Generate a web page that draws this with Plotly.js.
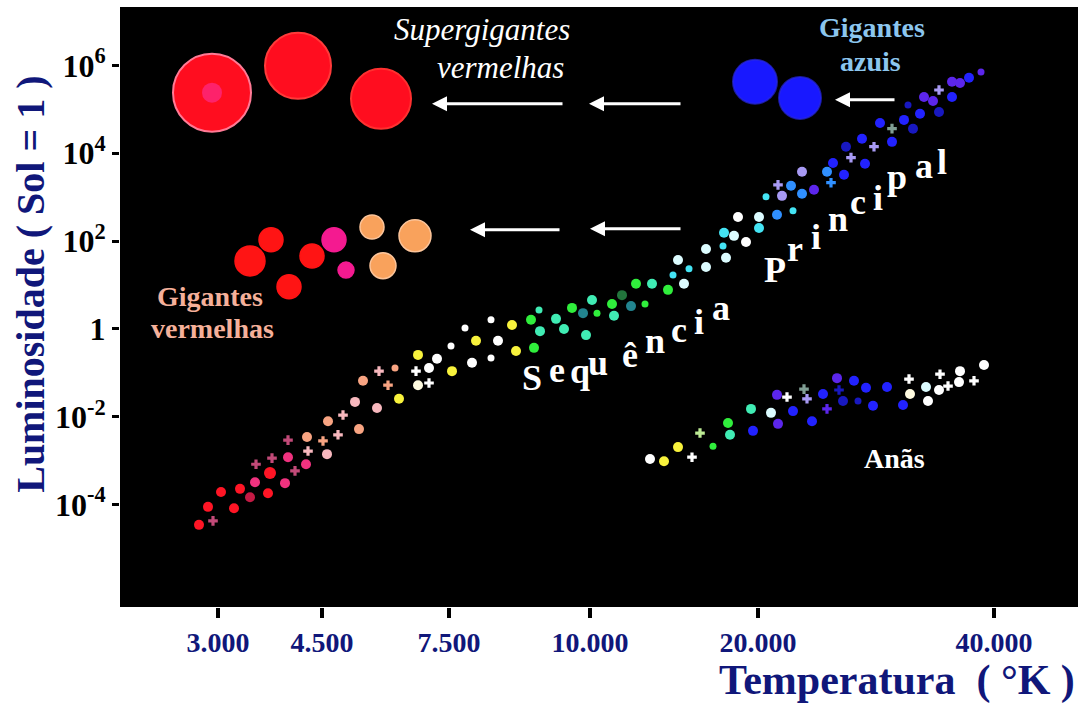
<!DOCTYPE html>
<html><head><meta charset="utf-8">
<script src="https://cdn.plot.ly/plotly-3.0.1.min.js"></script>
<style>html,body{margin:0;padding:0;background:#fff;} #chart{width:1082px;height:704px;}</style>
</head><body><div id="chart"></div>
<script>
// ---- Axis scales ----
// x: position on the (non-uniform) temperature scale of the diagram
const tempTickPos  = [218, 322, 449, 590, 758, 994];
const tempTickText = ['3.000', '4.500', '7.500', '10.000', '20.000', '40.000'];
// y: log10 of luminosity (Sol = 1)
const lumTickVals = [6, 4, 2, 0, -2, -4];
const lumTickText = ['10<sup>6</sup>', '10<sup>4</sup>', '10<sup>2</sup>', '1', '10<sup>-2</sup>', '10<sup>-4</sup>'];

// ---- Main sequence ----
const msX = [199,213,208,221,234,240,250,255,256,270,
             268,272,285,288,295,288,306,307,308,323,
             327,328,338,343,355,359,363,377,379,388,
             395,399,418,416,418,429,429,437,452,451,
             465,476,472,491,491,498,512,516,531,534,
             539,540,556,564,572,583,586,592,597,612,
             614,622,631,636,645,652,668,673,678,684,
             689,706,706,723,724,726,734,738,746,759,
             759,766,777,778,782,791,793,802,802,814,
             827,831,833,844,846,851,862,865,874,880,
             892,892,904,908,913,920,924,933,939,939,
             952,952,960,969,981];
const msLogL = [-4.46,-4.37,-4.05,-3.71,-4.08,-3.64,-3.83,-3.49,-3.08,-3.28,
                -3.74,-2.94,-3.51,-2.92,-3.23,-2.53,-3.08,-2.46,-2.78,-2.55,
                -2.85,-2.10,-2.41,-1.96,-1.66,-2.28,-1.18,-1.80,-0.96,-1.28,
                -0.89,-1.59,-0.59,-0.96,-1.28,-0.89,-1.23,-0.68,-0.96,-0.39,
                0.02,-0.27,-0.77,0.21,-0.66,-0.27,0.09,-0.50,0.21,-0.43,
                0.43,-0.05,0.23,0.00,0.48,0.36,-0.14,0.66,0.36,0.57,
                0.30,0.77,0.52,1.03,0.57,1.03,0.89,1.23,1.57,1.03,
                1.37,1.82,1.41,1.89,2.19,1.62,2.12,2.55,1.98,2.55,
                2.30,3.01,2.60,3.28,3.03,3.26,2.69,3.58,3.08,3.17,
                3.58,3.33,3.78,3.51,4.15,3.90,4.33,3.76,4.15,4.69,
                4.56,4.26,4.76,5.10,4.56,4.90,5.28,5.19,5.44,4.94,
                5.63,5.28,5.60,5.72,5.85];
const msColorClass = ['R','DP','R','R','R','R','DR','PK','DP','R',
                      'R','DP','PK','PK','DP','DP','PK','SA','LP','SA',
                      'LP','SA','LP','LP','LP','SA','SA','LP','LP','SA',
                      'SA','YE','YE','WH','CR','WH','WH','WH','YE','WH',
                      'WH','YE','WH','WH','WH','WH','YE','YE','GR','GR',
                      'CG','CG','CG','CG','GR','TE','CG','CG','GR','GR',
                      'CG','DG','TE','GR','GR','CG','GR','CY','WC','WC',
                      'CY','WC','WC','CY','CY','WC','WC','WH','WH','WC',
                      'CY','CY','AZ','LV','LV','AZ','CY','LV','AZ','PB',
                      'AZ','AZ','BL','BL','DB','LV','BL','BL','LV','BL',
                      'GG','BL','BL','DB','DB','BL','PB','PB','LV','DB',
                      'PB','BL','PB','BL','PB'];
const msKind = ['d','p','d','d','d','d','d','d','p','D',
                'd','p','d','d','p','p','d','d','p','p',
                'd','d','p','p','d','d','d','d','p','p',
                's','d','d','p','d','d','p','d','d','s',
                's','d','d','s','s','d','d','d','d','d',
                's','d','d','d','d','d','d','d','s','d',
                'd','d','d','d','s','d','d','s','d','d',
                's','d','d','s','d','d','d','d','d','d',
                'd','s','d','p','d','d','s','d','d','d',
                'd','p','d','d','d','p','d','d','p','d',
                'p','d','d','s','d','d','d','d','p','d',
                'd','d','d','d','s'];

// ---- Dwarfs (Anãs) ----
const dwX = [650,664,678,692,700,713,728,730,751,753,
             771,777,778,787,793,804,807,812,823,827,
             837,839,843,854,858,866,873,887,903,910,
             909,926,928,939,948,940,960,959,974,984];
const dwLogL = [-2.96,-3.01,-2.69,-2.92,-2.37,-2.67,-2.14,-2.41,-1.82,-2.32,
                -1.91,-1.50,-2.16,-1.55,-1.87,-1.37,-1.59,-2.10,-1.48,-1.82,
                -1.12,-1.39,-1.64,-1.18,-1.64,-1.34,-1.75,-1.32,-1.73,-1.48,
                -1.14,-1.32,-1.64,-1.39,-1.30,-1.03,-0.96,-1.21,-1.18,-0.82];
const dwColorClass = ['WH','YE','YE','WH','LG','GR','GR','CG','CG','BL',
                      'WC','PB','PB','WH','BL','GG','LV','BL','BL','PB',
                      'PB','DB','DB','BL','DB','BL','BL','BL','BL','CR',
                      'WH','WC','WH','WH','WH','WH','WH','WH','WH','WH'];
const dwKind = ['d','d','d','p','p','s','d','d','d','d',
                'd','d','d','p','d','p','p','d','d','p',
                'd','p','d','d','s','d','d','d','d','d',
                'p','d','d','d','p','p','d','d','p','d'];

// ---- Red giants ----
const rgX = [250,271,289,312,334,346,372,415,383];
const rgLogL = [1.55,2.03,0.96,1.66,2.03,1.34,2.32,2.12,1.44];
const rgRadius = [15,12,12,12,12,8,12,16,13];
const rgColorClass = ['RG','RG','RG','RG','MG','MG','OR','OR','OR'];

// ---- Red supergiants ----
const sgX = [212,298,381];
const sgLogL = [5.38,5.99,5.24];
const sgRadius = [39,33,30];

// ---- Blue giants ----
const bgX = [755,800];
const bgLogL = [5.63,5.26];
const bgRadius = [22,21];

// ---- Styles ----
const palette = {
  R:'#ff1525', DR:'#c41a44', PK:'#f0327f', DP:'#c24a78', SA:'#f8a482', LP:'#f8b8be',
  YE:'#f8f23c', WH:'#ffffff', CR:'#fffbe0', GR:'#30ee3c', CG:'#40ecb4', TE:'#22848f',
  DG:'#22753c', CY:'#44e4f4', WC:'#dcfcff', AZ:'#3090ff', LV:'#a89af4', BL:'#2222ff',
  PB:'#5c26ec', DB:'#1818c0', GG:'#809e94', LG:'#bcea94',
  RG:'#ff1414', MG:'#f41a90', OR:'#f9a25c'
};
const kindSymbol = {d:'circle', D:'circle', s:'circle', p:'cross'};
const kindSize = {d:10, D:12, s:7, p:8};
const navy = '#10177a';
const serif = 'Liberation Serif, Times New Roman, serif';

function starTrace(xs, ys, cls, kinds) {
  return {type:'scatter', mode:'markers', x:xs, y:ys, hoverinfo:'skip', showlegend:false,
    marker:{symbol:kinds.map(k => kindSymbol[k]), size:kinds.map(k => kindSize[k]), opacity:1,
            color:cls.map(c => palette[c]), line:{width:0}}};
}

const traces = [
  {type:'scatter', mode:'markers', x:sgX, y:sgLogL, hoverinfo:'skip', showlegend:false,
   marker:{size:sgRadius.map(r => 2*r), color:'#ff0d1f', opacity:1,
           line:{color:['#ff7a95','#ff3a3a','#ff3030'], width:2}}},
  {type:'scatter', mode:'markers', x:[sgX[0]], y:[sgLogL[0]], hoverinfo:'skip', showlegend:false,
   marker:{size:20, color:'rgba(250,60,200,0.45)', opacity:1, line:{width:0}}},
  {type:'scatter', mode:'markers', x:bgX, y:bgLogL, hoverinfo:'skip', showlegend:false,
   marker:{size:bgRadius.map(r => 2*r), color:'#1818ff', opacity:1, line:{color:'rgba(40,40,230,0.7)', width:2}}},
  {type:'scatter', mode:'markers', x:rgX, y:rgLogL, hoverinfo:'skip', showlegend:false,
   marker:{size:rgRadius.map(r => 2*r), color:rgColorClass.map(c => palette[c]), opacity:1,
           line:{color:rgColorClass.map(c => c === 'OR' ? '#fbc49a' : palette[c]), width:1.5}}},
  starTrace(msX, msLogL, msColorClass, msKind),
  starTrace(dwX, dwLogL, dwColorClass, dwKind)
];

const letterFont = {family:serif, size:36, color:'#ffffff', weight:'bold'};
const seqLetters = [['S',532,-1.12],['e',556.5,-0.93],['q',580,-0.95],['u',598,-0.77],['ê',629.5,-0.59],
                    ['n',655,-0.27],['c',679,-0.02],['i',698.5,0.15],['a',720.5,0.47],
                    ['P',774.5,1.35],['r',795,1.82],['i',816,2.10],['n',838,2.51],['c',858,2.89],
                    ['i',878,2.98],['p',897,3.46],['a',923.5,3.71],['l',941.5,3.80]];

const annotations = [];
seqLetters.forEach(([t, x, y]) => annotations.push({xref:'x', yref:'y', x, y, text:t, showarrow:false,
  xanchor:'center', yanchor:'middle', font:letterFont}));

const arrows = [[432,5.13,564],[589,5.13,682],[835,5.22,896],[470,2.26,561],[590,2.28,682]];
arrows.forEach(([hx, y, tx]) => annotations.push({xref:'x', yref:'y', x:hx, y, axref:'x', ayref:'y', ax:tx, ay:y,
  text:'', showarrow:true, arrowhead:2, arrowsize:1, arrowwidth:3, arrowcolor:'#ffffff', standoff:0}));

annotations.push(
  {xref:'x', yref:'y', x:482, y:6.81, text:'Supergigantes', showarrow:false,
   font:{family:serif, size:31, color:'#ffffff', style:'italic'}},
  {xref:'x', yref:'y', x:500, y:5.95, text:'vermelhas', showarrow:false,
   font:{family:serif, size:31, color:'#ffffff', style:'italic'}},
  {xref:'x', yref:'y', x:872, y:6.86, text:'Gigantes', showarrow:false,
   font:{family:serif, size:28, color:'#8cc6ee', weight:'bold'}},
  {xref:'x', yref:'y', x:870, y:6.08, text:'azuis', showarrow:false,
   font:{family:serif, size:28, color:'#8cc6ee', weight:'bold'}},
  {xref:'x', yref:'y', x:210, y:0.75, text:'Gigantes', showarrow:false,
   font:{family:serif, size:28, color:'#f5b09a', weight:'bold'}},
  {xref:'x', yref:'y', x:212, y:0.02, text:'vermelhas', showarrow:false,
   font:{family:serif, size:28, color:'#f5b09a', weight:'bold'}},
  {xref:'x', yref:'y', x:894, y:-2.96, text:'Anãs', showarrow:false,
   font:{family:serif, size:28, color:'#ffffff', weight:'bold'}},
  {xref:'paper', yref:'paper', x:-0.0929, y:0.537, text:'Luminosidade ( Sol = 1 )', textangle:-90,
   showarrow:false, xanchor:'center', yanchor:'middle',
   font:{family:serif, size:40, color:navy, weight:'bold'}},
  {xref:'paper', yref:'paper', x:0.999, y:-0.122, text:'Temperatura  ( °K )', showarrow:false,
   xanchor:'right', yanchor:'middle', font:{family:serif, size:42, color:navy, weight:'bold'}}
);

const layout = {
  width:1082, height:704,
  margin:{l:120, r:4, t:7, b:97, pad:0},
  paper_bgcolor:'#ffffff', plot_bgcolor:'#000000',
  showlegend:false,
  xaxis:{range:[120,1078], tickmode:'array', tickvals:tempTickPos, ticktext:tempTickText,
         ticks:'outside', ticklen:10, tickwidth:4, tickcolor:'#000000',
         showgrid:false, zeroline:false, showline:false, fixedrange:true,
         tickfont:{family:serif, size:28, color:navy, weight:'bold'}},
  yaxis:{range:[-6.33,7.33], tickmode:'array', tickvals:lumTickVals, ticktext:lumTickText,
         ticks:'outside', ticklen:7, tickwidth:3, tickcolor:'#000000',
         showgrid:false, zeroline:false, showline:false, fixedrange:true,
         tickfont:{family:serif, size:32, color:'#000000', weight:'bold'}},
  annotations
};

Plotly.newPlot('chart', traces, layout, {displayModeBar:false, staticPlot:true});
</script>
</body></html>
